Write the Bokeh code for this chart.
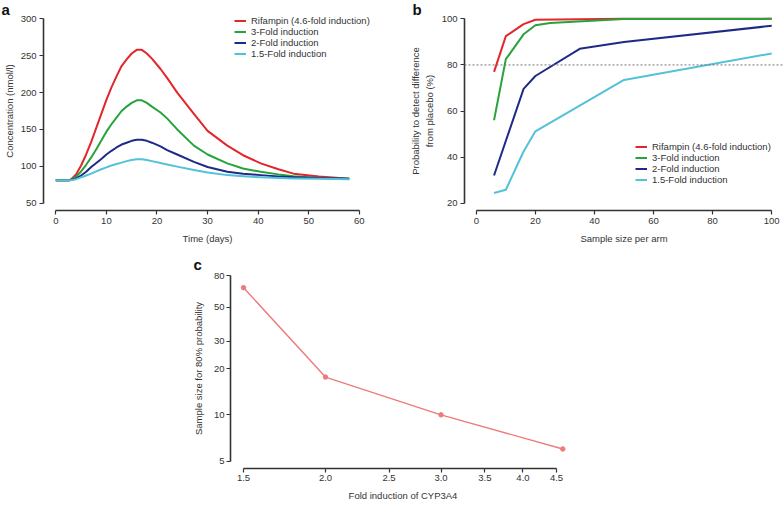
from bokeh.plotting import figure
from bokeh.models import (Range1d, FixedTicker, Legend, LegendItem, Span,
                          Spacer, PrintfTickFormatter)
from bokeh.layouts import row, column
from bokeh.embed import file_html
from bokeh.resources import INLINE

FONT = "Liberation Sans"
TXT = "#333333"
AX = "#333333"

# ---------------- Panel a: concentration-time profiles ----------------
days = [0, 2.5, 3, 4, 5, 6, 7, 8, 9, 10, 11, 12, 13, 14, 15, 16, 17, 18, 19, 20.7,
        22, 24, 27.3, 30, 33.9, 37, 40.5, 44, 47, 52, 58]
conc_rif = [81, 81, 82, 89, 101, 116, 133, 152, 171, 190, 207, 222, 236, 245, 253, 258,
            258, 253, 246, 232, 220, 200, 171, 148, 128, 115, 104, 96, 90, 86, 83]
conc_3 = [81, 81, 81.5, 86, 93, 102, 112, 123, 135, 147, 157, 166, 175, 181, 186, 189.5,
          189.5, 186, 181, 173, 165, 150, 128, 116, 104, 97, 92.5, 89, 86.5, 84, 83]
conc_2 = [81, 81, 81.3, 83.5, 87.5, 92.5, 99, 104.5, 110, 116, 121, 125.5, 129.5, 132, 134.5, 136,
          136, 134.5, 132, 127, 122, 116, 106, 99, 92.5, 90, 88, 86, 85, 84, 83]
conc_15 = [81, 81, 81.2, 82.5, 85, 87.5, 90, 93, 96, 98.5, 101, 103, 105, 107, 108.5, 109.5,
           109.5, 108.5, 107, 104.5, 102.5, 99.5, 95, 91.5, 88, 86.5, 85, 84, 83.5, 83, 82.5]
a_xticks = [0, 10, 20, 30, 40, 50, 60]
a_yticks = [50, 100, 150, 200, 250, 300]

# ---------------- Panel b: power vs sample size ----------------
ss_rif = [6, 10, 16, 20, 50, 100]
pw_rif = [77, 92.5, 97.7, 99.6, 100, 100]
ss_3 = [6, 10, 16, 20, 25, 50, 100]
pw_3 = [56, 82.5, 93.3, 97.2, 98.2, 99.9, 100]
ss_2 = [6, 16, 20, 35, 50, 100]
pw_2 = [32, 69.6, 75.2, 87, 90, 97]
ss_15 = [6, 10, 16, 20, 50, 100]
pw_15 = [24.4, 25.8, 42.4, 51.2, 73.5, 85]
b_xticks = [0, 20, 40, 60, 80, 100]
b_yticks = [20, 40, 60, 80, 100]
power_target = 80

# ---------------- Panel c: sample size for 80% probability ----------------
fold = [1.5, 2.0, 3.0, 4.6]
n80 = [67, 17.6, 10, 6]
c_xticks = [1.5, 2.0, 2.5, 3.0, 3.5, 4.0, 4.5]
c_yticks = [5, 10, 20, 30, 50, 80]

labels = ["Rifampin (4.6-fold induction)", "3-Fold induction", "2-Fold induction", "1.5-Fold induction"]
colors = ["#E3262B", "#27A33B", "#1F2A88", "#52C2D8"]


def style(p, xticks, yticks, xb, yb, xlab, ylab, y_lab_standoff=5, lab_standoff=3):
    p.outline_line_color = None
    p.xgrid.visible = False
    p.ygrid.visible = False
    p.background_fill_color = "white"
    p.border_fill_color = "white"
    p.xaxis.ticker = FixedTicker(ticks=xticks)
    p.yaxis.ticker = FixedTicker(ticks=yticks)
    p.xaxis.bounds = xb
    p.yaxis.bounds = yb
    p.xaxis.axis_label = xlab
    p.yaxis.axis_label = ylab
    for ax in (p.xaxis[0], p.yaxis[0]):
        ax.axis_line_color = AX
        ax.axis_line_width = 1.6
        ax.major_tick_line_color = AX
        ax.major_tick_line_width = 1.2
        ax.major_tick_out = 4
        ax.major_tick_in = 0
        ax.minor_tick_line_color = None
        ax.major_label_text_font = FONT
        ax.major_label_text_font_size = "9.5px"
        ax.major_label_text_color = TXT
        ax.major_label_standoff = lab_standoff
        ax.axis_label_text_font = FONT
        ax.axis_label_text_font_size = "9.5px"
        ax.axis_label_text_font_style = "normal"
        ax.axis_label_text_color = TXT
    p.xaxis.axis_label_standoff = 6
    p.yaxis.axis_label_standoff = y_lab_standoff


def panel_letter(p, t, offset, standoff):
    p.title.text = t
    p.title.align = "left"
    p.title.offset = offset
    p.title.standoff = standoff
    p.title.text_font = FONT
    p.title.text_font_size = "15px"
    p.title.text_font_style = "bold"
    p.title.text_color = "#111111"


def legend(p, rends, loc):
    items = [LegendItem(label=l, renderers=[r]) for l, r in zip(labels, rends)]
    lg = Legend(items=items, location=loc, border_line_color=None,
                background_fill_alpha=0, padding=0, margin=0, spacing=0,
                glyph_width=12, glyph_height=11, label_height=11, label_standoff=5,
                label_text_font=FONT, label_text_font_size="9.5px",
                label_text_color=TXT)
    p.add_layout(lg, "center")


# Panel a
pa = figure(width=390, height=248, x_range=Range1d(-2.43, 62.4), y_range=Range1d(40, 310),
            output_backend="svg", toolbar_location=None,
            min_border_left=43, min_border_right=19, min_border_top=11, min_border_bottom=38)
style(pa, a_xticks, a_yticks, (0, 60), (50, 300), "Time (days)", "Concentration (nmol/l)",
      y_lab_standoff=3)
ra = []
for ys, c in zip([conc_rif, conc_3, conc_2, conc_15], colors):
    ra.append(pa.line(days, ys, line_color=c, line_width=2, line_join="round"))
legend(pa, ra, (191, 151))
panel_letter(pa, "a", -42, -12)

# Panel b
pb = figure(width=393, height=248, x_range=Range1d(-4, 104), y_range=Range1d(16.8, 103.2),
            output_backend="svg", toolbar_location=None,
            min_border_left=74, min_border_right=0, min_border_top=11, min_border_bottom=38)
style(pb, b_xticks, b_yticks, (0, 100), (20, 100), "Sample size per arm",
      "Probability to detect difference\nfrom placebo (%)", y_lab_standoff=4)
pb.add_layout(Span(location=power_target, dimension="width", line_color="#777777",
                   line_width=1, line_dash="2 2"))
rb = []
for xs, ys, c in zip([ss_rif, ss_3, ss_2, ss_15], [pw_rif, pw_3, pw_2, pw_15], colors):
    rb.append(pb.line(xs, ys, line_color=c, line_width=2, line_join="round"))
legend(pb, rb, (171, 25))
panel_letter(pb, "b", -52, -12)

# Panel c
pc = figure(width=400, height=255, x_axis_type="log", y_axis_type="log",
            x_range=Range1d(1.433, 4.81), y_range=Range1d(4.48, 89.3),
            output_backend="svg", toolbar_location=None,
            min_border_left=45, min_border_right=10, min_border_top=20, min_border_bottom=33)
style(pc, c_xticks, c_yticks, (1.5, 4.5), (5, 80), "Fold induction of CYP3A4",
      "Sample size for 80% probability", y_lab_standoff=7, lab_standoff=2)
pc.xaxis.formatter = PrintfTickFormatter(format="%.1f")
pc.yaxis.formatter = PrintfTickFormatter(format="%d")
pc.line(fold, n80, line_color="#EE7B7B", line_width=1.4)
pc.scatter(fold, n80, size=4.5, marker="circle", fill_color="#EE7B7B", line_color="#EE7B7B")
panel_letter(pc, "c", -37, -8)

layout = column(row(pa, pb), row(Spacer(width=185, height=255), pc))
open("out.html", "w").write(file_html(layout, INLINE))
